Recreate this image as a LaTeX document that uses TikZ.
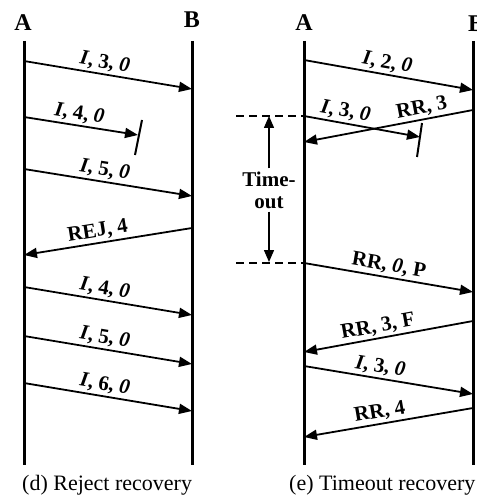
\documentclass[tikz,border=0pt]{standalone}
\usepackage{fontspec}
\setmainfont{Liberation Serif}
\usetikzlibrary{arrows.meta}
\begin{document}
\begin{tikzpicture}[x=1pt,y=-1pt,
  life/.style={line width=3pt},
  msg/.style={line width=1.8pt,-{Triangle[length=13pt,width=10pt]}},
  lost/.style={line width=2pt},
  lbl/.style={font=\fontsize{21}{21}\selectfont\bfseries, sloped, above, inner sep=2pt},
  head/.style={font=\fontsize{24}{24}\selectfont\bfseries},
  capt/.style={font=\fontsize{22}{22}\selectfont, anchor=west, inner sep=0pt},
  guide/.style={line width=1.2pt, dash pattern=on 8pt off 5pt},
  tarrow/.style={line width=1.4pt,-{Triangle[length=12pt,width=10pt]}}]
\useasboundingbox (0,0) rectangle (476,497);
% ---------- (d) Reject recovery ----------
\node[head] (dA) at (23,23) {A};
\node[head] (dB) at (192,20) {B};
\coordinate (dAt) at (24,41); \coordinate (dAb) at (24,465);
\coordinate (dBt) at (192,41); \coordinate (dBb) at (192,465);
\draw[life] (dAt) -- (dAb);
\draw[life] (dBt) -- (dBb);
\coordinate (d1s) at (24,61);  \coordinate (d1e) at (192,89);
\coordinate (d2s) at (24,117); \coordinate (d2e) at (138,135);
\coordinate (d3s) at (24,169); \coordinate (d3e) at (192,196);
\coordinate (d4s) at (192,228); \coordinate (d4e) at (24,255);
\coordinate (d5s) at (24,287); \coordinate (d5e) at (192,315);
\coordinate (d6s) at (24,336); \coordinate (d6e) at (192,364);
\coordinate (d7s) at (24,383); \coordinate (d7e) at (192,411);
\coordinate (dk1) at (142,120); \coordinate (dk2) at (135,155);
\draw[msg] (d1s) -- node[lbl,pos=.47] {\textit{I}, 3, \textit{0}} (d1e);
\draw[msg] (d2s) -- node[lbl,pos=.47] {\textit{I}, 4, \textit{0}} (d2e);
\draw[lost] (dk1) -- (dk2);
\draw[msg] (d3s) -- node[lbl,pos=.47] {\textit{I}, 5, \textit{0}} (d3e);
\draw[msg] (d4s) -- node[lbl,pos=.55] {REJ, 4} (d4e);
\draw[msg] (d5s) -- node[lbl,pos=.47] {\textit{I}, 4, \textit{0}} (d5e);
\draw[msg] (d6s) -- node[lbl,pos=.47] {\textit{I}, 5, \textit{0}} (d6e);
\draw[msg] (d7s) -- node[lbl,pos=.47] {\textit{I}, 6, \textit{0}} (d7e);
\node[capt] (dcap) at (22,485) {(d) Reject recovery};
% ---------- (e) Timeout recovery ----------
\node[head] (eA) at (304,23) {A};
\node[head] (eB) at (476,24) {B};
\coordinate (eAt) at (304,41); \coordinate (eAb) at (304,465);
\coordinate (eBt) at (473,41); \coordinate (eBb) at (473,465);
\draw[life] (eAt) -- (eAb);
\draw[life] (eBt) -- (eBb);
\coordinate (e1s) at (304,60);  \coordinate (e1e) at (473,90);
\coordinate (e2s) at (304,116); \coordinate (e2e) at (420,137);
\coordinate (e3s) at (473,110); \coordinate (e3e) at (304,142);
\coordinate (e4s) at (304,263); \coordinate (e4e) at (473,292);
\coordinate (e5s) at (473,321); \coordinate (e5e) at (304,352);
\coordinate (e6s) at (304,366); \coordinate (e6e) at (473,394);
\coordinate (e7s) at (473,408); \coordinate (e7e) at (304,437);
\coordinate (ek1) at (422,123); \coordinate (ek2) at (417,157);
\draw[msg] (e1s) -- node[lbl,pos=.48] {\textit{I}, 2, \textit{0}} (e1e);
\draw[msg] (e2s) -- node[lbl,pos=.34] {\textit{I}, 3, \textit{0}} (e2e);
\draw[lost] (ek1) -- (ek2);
\draw[msg] (e3s) -- node[lbl,pos=.29] {RR, 3} (e3e);
\draw[msg] (e4s) -- node[lbl,pos=.49] {RR, \textit{0}, P} (e4e);
\draw[msg] (e5s) -- node[lbl,pos=.55] {RR, 3, F} (e5e);
\draw[msg] (e6s) -- node[lbl,pos=.44] {\textit{I}, 3, \textit{0}} (e6e);
\draw[msg] (e7s) -- node[lbl,pos=.54] {RR, 4} (e7e);
% timeout
\coordinate (g1s) at (236,116); \coordinate (g2s) at (236,263);
\draw[guide] (g1s) -- (e2s);
\draw[guide] (g2s) -- (e4s);
\coordinate (tup) at (269,116); \coordinate (tdn) at (269,262);
\node[font=\fontsize{21}{22}\selectfont\bfseries, align=center, inner sep=3pt] (to) at (269,190) {Time-\\out};
\draw[tarrow] (to.north) -- (tup);
\draw[tarrow] (to.south) -- (tdn);
\node[capt] (ecap) at (289,485) {(e) Timeout recovery};
\end{tikzpicture}
\end{document}
